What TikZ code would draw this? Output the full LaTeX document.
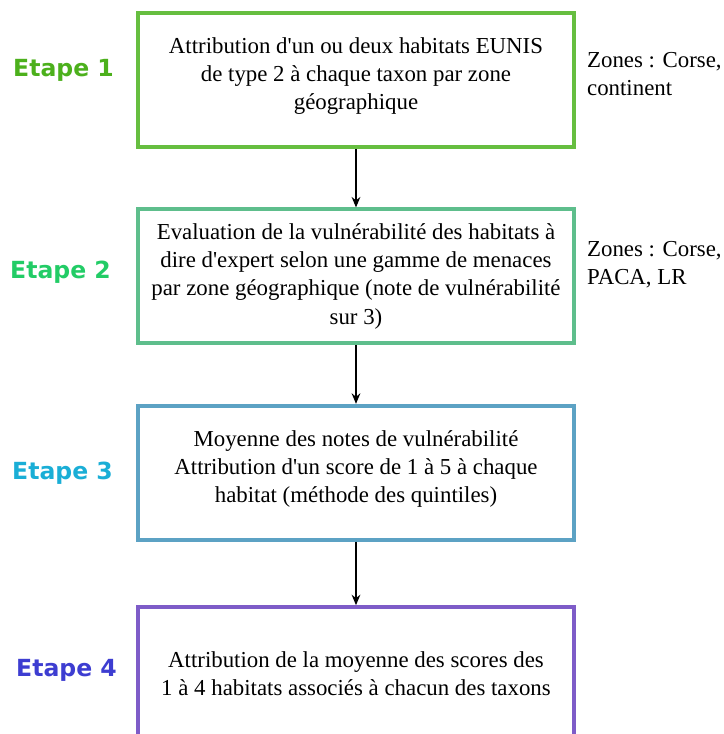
\documentclass[tikz,border=0pt]{standalone}
\usepackage{fontspec}
\setmainfont{Liberation Serif}
\newfontfamily\etapefont{DejaVu Sans}
\usepackage{xcolor}
\definecolor{StepOne}{RGB}{102,190,64}
\definecolor{StepTwo}{RGB}{94,190,140}
\definecolor{StepThree}{RGB}{92,162,196}
\definecolor{StepFour}{RGB}{126,92,200}
\definecolor{LabelOne}{RGB}{76,176,28}
\definecolor{LabelTwo}{RGB}{34,204,102}
\definecolor{LabelThree}{RGB}{26,174,214}
\definecolor{LabelFour}{RGB}{61,61,209}
\usepackage{tikz}
\usetikzlibrary{arrows.meta,positioning}
\newcommand{\apos}{\textquotesingle}

\begin{document}
\begin{tikzpicture}[
    font=\fontsize{13pt}{16pt}\selectfont,
    box/.style={draw=#1,line width=2.2pt,fill=white,minimum width=8.72cm,minimum height=2.68cm,align=center,inner sep=4pt},
    arr/.style={-{Stealth[length=6pt,width=5pt,inset=2pt]},line width=0.7pt,black},
    etape/.style={text=#1,font=\etapefont\bfseries\fontsize{13.4pt}{16pt}\selectfont},
    zone/.style={align=left,anchor=west},
  ]
    \clip (0,0) rectangle (14.48,-14.68);
    \useasboundingbox (0,0) rectangle (14.48,-14.68);
    \node[box=StepOne] (one) at (7.12,-1.6) {Attribution d\apos un ou deux habitats EUNIS\\de type 2 à chaque taxon par zone\\géographique\\[-9pt]};
    \node[box=StepTwo,below=1.17cm of one] (two) {Evaluation de la vulnérabilité des habitats à\\dire d\apos expert selon une gamme de menaces\\par zone géographique (note de vulnérabilité\\sur 3)};
    \node[box=StepThree,below=1.17cm of two] (three) {Moyenne des notes de vulnérabilité\\Attribution d\apos un score de 1 à 5 à chaque\\habitat (méthode des quintiles)\\[-9pt]};
    \node[box=StepFour,below=1.27cm of three] (four) {Attribution de la moyenne des scores des\\1 à 4 habitats associés à chacun des taxons};
    % labels on the left
    \node[etape=LabelOne,left=0.32cm of one,yshift=0.2cm] (e1) {Etape 1};
    \node[etape=LabelTwo,left=0.38cm of two,yshift=0.08cm] (e2) {Etape 2};
    \node[etape=LabelThree,left=0.34cm of three] (e3) {Etape 3};
    \node[etape=LabelFour,left=0.26cm of four,yshift=0.08cm] (e4) {Etape 4};
    % zones on the right
    \node[zone] (z1) at ([xshift=0.1cm,yshift=0.12cm]one.east) {Zones : Corse,\\continent};
    \node[zone] (z2) at ([xshift=0.1cm,yshift=0.24cm]two.east) {Zones : Corse,\\PACA, LR};
    \draw[arr] (one) -- (two);
    \draw[arr] (two) -- (three);
    \draw[arr] (three) -- (four);
  \end{tikzpicture}
\end{document}
